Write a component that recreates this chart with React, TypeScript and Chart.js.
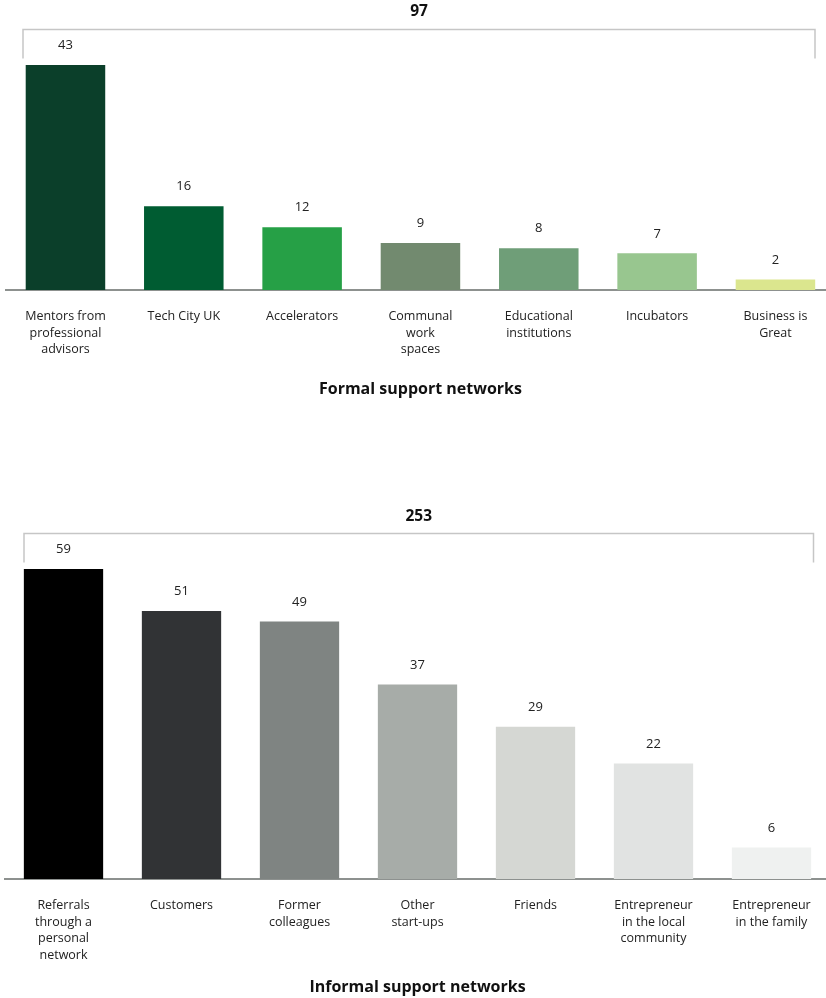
import React, { useEffect, useRef } from "react";
import { Chart, registerables } from "chart.js";

Chart.register(...registerables);

const formalCategories: (string | string[])[] = [
  ["Mentors from", "professional", "advisors"],
  "Tech City UK",
  "Accelerators",
  ["Communal", "work", "spaces"],
  ["Educational", "institutions"],
  "Incubators",
  ["Business is", "Great"],
];
const formalValues = [43, 16, 12, 9, 8, 7, 2];
const formalColors = ["#0b3f2a", "#005c32", "#26a046", "#728a6f", "#6f9e78", "#98c68f", "#dbe68e"];
const formalTotal = "97";
const formalTitle = "Formal support networks";

const informalCategories: (string | string[])[] = [
  ["Referrals", "through a", "personal", "network"],
  "Customers",
  ["Former", "colleagues"],
  ["Other", "start-ups"],
  "Friends",
  ["Entrepreneur", "in the local", "community"],
  ["Entrepreneur", "in the family"],
];
const informalValues = [59, 51, 49, 37, 29, 22, 6];
const informalColors = ["#000000", "#313335", "#7f8482", "#a7aca8", "#d5d7d3", "#e1e3e2", "#eff1f0"];
const informalTotal = "253";
const informalTitle = "Informal support networks";

const FONT = "'Open Sans', 'Noto Sans', sans-serif";
const TEXT = "#222222";

const overlayPlugin = {
  id: "overlay",
  afterDatasetsDraw(chart: any, _args: any, opts: any) {
    const ctx = chart.ctx;
    const meta = chart.getDatasetMeta(0);
    const ds = chart.data.datasets[0];
    ctx.save();
    ctx.fillStyle = TEXT;
    ctx.font = `13px ${FONT}`;
    ctx.textAlign = "center";
    ctx.textBaseline = "middle";
    meta.data.forEach((bar: any, i: number) => {
      ctx.fillText(String(ds.data[i]), bar.x, bar.y - 19.5);
    });
    const { left, right, top, drop, total, totalY } = opts;
    ctx.strokeStyle = "#c6c6c6";
    ctx.lineWidth = 1.5;
    ctx.beginPath();
    ctx.moveTo(left, top + drop);
    ctx.lineTo(left, top);
    ctx.lineTo(right, top);
    ctx.lineTo(right, top + drop);
    ctx.stroke();
    ctx.fillStyle = "#111111";
    ctx.font = `bold 15.5px ${FONT}`;
    ctx.fillText(total, (left + right) / 2, totalY);
    ctx.restore();
  },
};

interface PanelProps {
  categories: (string | string[])[];
  values: number[];
  colors: string[];
  title: string;
  total: string;
  height: number;
  top: number;
  axisHeight: number;
  areaTop: number;
  padLeft: number;
  padRight: number;
  yMax: number;
  titlePad: number;
  bracket: { left: number; right: number; top: number; drop: number; totalY: number };
}

function Panel(p: PanelProps) {
  const ref = useRef<HTMLCanvasElement | null>(null);
  useEffect(() => {
    if (!ref.current) return;
    const chart = new Chart(ref.current, {
      type: "bar",
      data: {
        labels: p.categories,
        datasets: [
          {
            data: p.values,
            backgroundColor: p.colors,
            borderWidth: 0,
            barPercentage: 0.672,
            categoryPercentage: 1,
          },
        ],
      },
      options: {
        animation: false,
        responsive: false,
        maintainAspectRatio: false,
        events: [],
        layout: {
          padding: { left: p.padLeft, right: p.padRight, top: p.areaTop, bottom: 0 },
        },
        plugins: {
          legend: { display: false },
          tooltip: { enabled: false },
          title: { display: false },
          overlay: { ...p.bracket, total: p.total },
        } as any,
        scales: {
          x: {
            grid: { display: false, drawTicks: false },
            border: { display: true, color: "#8d918f", width: 2 },
            ticks: {
              color: TEXT,
              font: { family: FONT, size: 12.5, lineHeight: 1.33 },
              padding: 18,
              maxRotation: 0,
              autoSkip: false,
            },
            title: {
              display: true,
              text: p.title,
              color: "#111111",
              font: { family: FONT, size: 16, weight: "bold", lineHeight: 1.2 },
              padding: { top: 0, bottom: p.titlePad },
            },
            afterFit: (scale: any) => {
              scale.height = p.axisHeight;
            },
          },
          y: {
            display: false,
            min: 0,
            max: p.yMax,
          },
        },
      },
      plugins: [overlayPlugin],
    });
    return () => chart.destroy();
  }, []);
  return (
    <canvas
      ref={ref}
      width={840}
      height={p.height}
      style={{ position: "absolute", left: 0, top: p.top, width: 840, height: p.height }}
    />
  );
}

export default function App() {
  useEffect(() => {
    document.body.style.margin = "0";
  }, []);
  return (
    <div style={{ position: "relative", width: 826, height: 998, overflow: "hidden", background: "#fff" }}>
      <Panel
        categories={formalCategories}
        values={formalValues}
        colors={formalColors}
        title={formalTitle}
        total={formalTotal}
        height={420}
        top={0}
        axisHeight={130}
        areaTop={30}
        padLeft={6.3}
        padRight={5.4}
        yMax={260 / 5.233}
        titlePad={21}
        bracket={{ left: 23, right: 815, top: 29.5, drop: 29, totalY: 12 }}
      />
      <Panel
        categories={informalCategories}
        values={informalValues}
        colors={informalColors}
        title={informalTitle}
        total={informalTotal}
        height={498}
        top={500}
        axisHeight={119}
        areaTop={40}
        padLeft={4.5}
        padRight={9.5}
        yMax={339 / 5.254}
        titlePad={1}
        bracket={{ left: 24, right: 813.5, top: 33.5, drop: 29, totalY: 17 }}
      />
    </div>
  );
}
